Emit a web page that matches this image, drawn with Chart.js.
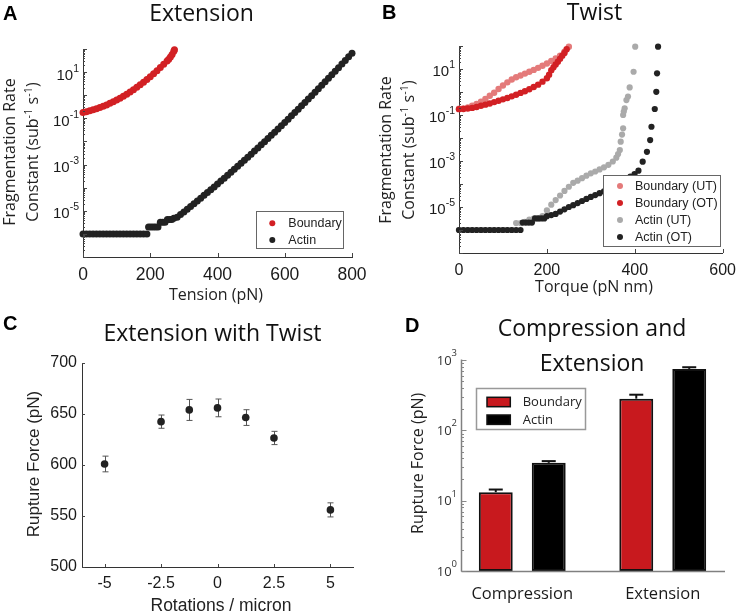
<!DOCTYPE html>
<html><head><meta charset="utf-8">
<script src="https://cdn.jsdelivr.net/npm/chart.js"></script>
<style>
html,body{margin:0;padding:0;background:#fff;}
#wrap{position:relative;width:744px;height:614px;overflow:hidden;background:#fff;}
canvas{position:absolute;left:0;top:0;}
</style></head><body>
<div id="wrap">
<canvas id="cA" width="744" height="614"></canvas>
<canvas id="cB" width="744" height="614"></canvas>
<canvas id="cC" width="744" height="614"></canvas>
<canvas id="cD" width="744" height="614"></canvas>
</div>
<script>
// ---------------- DATA ----------------
// Panel A: Extension
const tensionBoundaryA = [0,10,20,30,40,50,60,70,80,90,100,110,120,130,140,150,160,170,180,190,200,210,220,230,240,250,255,260,265,270,272];
const rateBoundaryA = [0.18,0.194,0.211,0.233,0.259,0.292,0.332,0.382,0.445,0.523,0.621,0.746,0.906,1.11,1.38,1.73,2.19,2.81,3.65,4.78,6.32,8.47,11.5,15.7,21.7,30.3,36,45,58,79,93];
const tensionActinA = [0,10,20,30,40,50,60,70,80,90,100,110,120,130,140,150,160,170,180,190,
  195,202,209,216,223,230,237,244,251,258,264,270,
  280,290,300,310,320,330,340,350,360,370,380,390,400,410,420,430,440,450,460,470,480,490,500,
  510,520,530,540,550,560,570,580,590,600,610,620,630,640,650,660,670,680,690,700,
  710,720,730,740,750,760,770,780,790,800];
const rateActinA = [1e-6,1e-6,1e-6,1e-6,1e-6,1e-6,1e-6,1e-6,1e-6,1e-6,1e-6,1e-6,1e-6,1e-6,1e-6,1e-6,1e-6,1e-6,1e-6,1e-6,
  2e-6,2e-6,2e-6,2e-6,2e-6,3.2e-6,3.2e-6,3.2e-6,4.2e-6,4.2e-6,4.2e-6,4.7e-6,
  5.25e-6,6.84e-6,8.95e-6,1.17e-5,1.54e-5,2.02e-5,2.66e-5,3.51e-5,4.64e-5,6.14e-5,8.15e-5,1.08e-4,1.44e-4,1.93e-4,2.58e-4,3.45e-4,4.63e-4,6.23e-4,8.4e-4,1.13e-3,1.53e-3,2.08e-3,2.82e-3,
  3.83e-3,5.23e-3,7.13e-3,9.76e-3,1.34e-2,1.84e-2,2.53e-2,3.49e-2,4.81e-2,6.66e-2,9.23e-2,0.128,0.178,0.249,0.348,0.487,0.682,0.958,1.35,1.90,
  2.69,3.81,5.40,7.67,10.9,15.6,22.3,31.9,45.8,65.8];

// Panel B: Twist
const torqueBoundaryUT = [0,10,20,30,40,50,60,70,80,90,100,110,120,130,140,150,160,170,180,190,200,210,220,230,240,250];
const rateBoundaryUT = [0.186,0.195,0.214,0.251,0.302,0.380,0.501,0.692,0.933,1.35,1.91,2.63,3.47,4.37,5.25,6.31,7.59,9.12,11.2,13.8,17.4,22.4,28.8,38.0,56.2,93.3];
const torqueBoundaryOT = [0,10,20,30,40,50,60,70,80,90,100,110,120,130,140,150,160,170,180,190,200,205,210,215,220,225,230,235,240,245];
const rateBoundaryOT = [0.18,0.182,0.191,0.204,0.224,0.251,0.282,0.316,0.363,0.417,0.479,0.550,0.646,0.759,0.912,1.07,1.32,1.66,2.09,2.82,3.98,5.62,8.91,12.0,15.8,20.9,28.2,38.0,50.1,72.4];
const torqueActinUT = [0,10,20,30,40,50,60,70,80,90,100,110,120,
  130,140,150,160,170,180,190,200,210,220,230,240,250,260,270,280,290,300,310,320,330,340,350,
  358,362,366,368,371,373.5,373.5,375,377,381,384.6,388.4,397.3,401];
const rateActinUT = [1e-6,1e-6,1e-6,1e-6,1e-6,1e-6,1e-6,1e-6,1e-6,1e-6,1e-6,1e-6,1e-6,
  2e-6,2e-6,2.24e-6,2.82e-6,3.16e-6,3.16e-6,3.98e-6,7.08e-6,1.26e-5,2.0e-5,3.16e-5,5.01e-5,7.59e-5,1.12e-4,1.4e-4,1.8e-4,2.3e-4,2.9e-4,3.5e-4,4.3e-4,5.3e-4,6.8e-4,9.5e-4,
  1.4e-3,2.0e-3,3.0e-3,6.9e-3,1.41e-2,2.63e-2,0.1,0.141,0.195,0.447,0.631,1.58,7.59,93.3];
const torqueActinOT = [0,10,20,30,40,50,60,70,80,90,100,110,120,130,140,
  145,152,159,166,173,180,187,194,
  200,210,220,230,240,250,260,270,280,290,300,310,320,330,340,350,360,370,380,390,
  399.5,408.4,418,427.7,435,438,445.5,449,450.7,453];
const rateActinOT = [1e-6,1e-6,1e-6,1e-6,1e-6,1e-6,1e-6,1e-6,1e-6,1e-6,1e-6,1e-6,1e-6,1e-6,1e-6,
  2.1e-6,2.1e-6,2.1e-6,2.1e-6,3.2e-6,3.2e-6,3.2e-6,3.2e-6,
  4.0e-6,4.47e-6,5.0e-6,6.3e-6,7.9e-6,1.0e-5,1.2e-5,1.48e-5,1.82e-5,2.24e-5,2.75e-5,3.31e-5,3.98e-5,4.79e-5,6.03e-5,7.41e-5,8.91e-5,1.12e-4,1.51e-4,2.09e-4,
  2.69e-4,3.8e-4,9.33e-4,2.51e-3,8.13e-3,3.09e-2,0.182,1.02,6.46,93.3];
const rateTickExps = [1, -1, -3, -5];

// Panel C: Extension with Twist
const rotations = [-5, -2.5, -1.25, 0, 1.25, 2.5, 5];
const ruptureForceC = [601, 642.5, 654, 656, 646.5, 626.5, 556];
const ruptureErrC = [7.7, 6.5, 10.3, 8.7, 7.7, 6.5, 6.9];
const rotationTicks = [-5, -2.5, 0, 2.5, 5];

// Panel D: Compression and Extension
const loadModes = ['Compression', 'Extension'];
const ruptureBoundary = [13.2, 282];
const ruptureActin = [34.5, 747];
const ruptureBoundaryErr = [1.2, 39];
const ruptureActinErr = [2.0, 42];
const forceTickExps = [0, 1, 2, 3];

// ---------------- HELPERS ----------------
const AR = '"Liberation Sans", Arial, Helvetica, sans-serif';
const OS = '"Open Sans", "Liberation Sans", sans-serif';
const fnt = (size, fam, w) => (w ? w + ' ' : '') + size + 'px ' + fam;
const RED = 'rgb(210,32,36)', PINK = 'rgb(228,122,122)', GRAY = 'rgb(170,170,170)', DARK = 'rgb(34,34,34)';

function text(ctx, s, x, y, font, color, align, rot) {
  ctx.save(); ctx.translate(x, y); if (rot) ctx.rotate(rot);
  ctx.font = font; ctx.fillStyle = color; ctx.textAlign = align || 'center'; ctx.textBaseline = 'alphabetic';
  ctx.fillText(s, 0, 0); ctx.restore();
}
function rich(ctx, parts, x, y, align, rot, color) {
  ctx.save(); ctx.translate(x, y); if (rot) ctx.rotate(rot);
  ctx.textBaseline = 'alphabetic'; ctx.textAlign = 'left'; ctx.fillStyle = color;
  let w = 0; for (const p of parts) { ctx.font = p.f; w += ctx.measureText(p.t).width; }
  let cx = align === 'center' ? -w / 2 : (align === 'right' ? -w : 0);
  for (const p of parts) { ctx.font = p.f; ctx.fillText(p.t, cx, p.dy || 0); cx += ctx.measureText(p.t).width; }
  ctx.restore();
}
function seg(ctx, x1, y1, x2, y2, color, lw) {
  ctx.save(); ctx.strokeStyle = color; ctx.lineWidth = lw; ctx.beginPath(); ctx.moveTo(x1, y1); ctx.lineTo(x2, y2); ctx.stroke(); ctx.restore();
}
function logTicks(ctx, scale, x0, major, minor, color, lw) {
  const lo = Math.floor(Math.log10(scale.min)), hi = Math.ceil(Math.log10(scale.max));
  for (let e = lo; e <= hi; e++) for (let m = 1; m <= 9; m++) {
    const v = m * Math.pow(10, e);
    if (v < scale.min * 0.9999 || v > scale.max * 1.0001) continue;
    const py = Math.round(scale.getPixelForValue(v)) + 0.5;
    seg(ctx, x0, py, x0 + (m === 1 ? major : minor), py, color, lw);
  }
}
function logLabels(ctx, scale, exps, xr, fb, fs, color, dyb, dys) {
  for (const e of exps) {
    const py = scale.getPixelForValue(Math.pow(10, e));
    rich(ctx, [{t: '10', f: fb, dy: dyb}, {t: String(e), f: fs, dy: dys}], xr, py, 'right', 0, color);
  }
}
function xTickMarks(ctx, scale, y0, len, color) {
  for (const t of scale.ticks) { const px = Math.round(scale.getPixelForValue(t.value)) + 0.5; seg(ctx, px, y0, px, y0 - len, color, 1); }
}
function yTickMarks(ctx, scale, x0, len, color) {
  for (const t of scale.ticks) { const py = Math.round(scale.getPixelForValue(t.value)) + 0.5; seg(ctx, x0, py, x0 + len, py, color, 1); }
}
function dot(ctx, x, y, r, color) { ctx.save(); ctx.fillStyle = color; ctx.beginPath(); ctx.arc(x, y, r, 0, Math.PI * 2); ctx.fill(); ctx.restore(); }
function box(ctx, x, y, w, h, color, lw) { ctx.save(); ctx.strokeStyle = color; ctx.lineWidth = lw; ctx.strokeRect(x, y, w, h); ctx.restore(); }

const preDraw = {}, postDraw = {};
Chart.register({
  id: 'deco',
  beforeDatasetsDraw(chart) { const f = preDraw[chart.canvas.id]; if (f) f(chart, chart.ctx); },
  afterDraw(chart) { const f = postDraw[chart.canvas.id]; if (f) f(chart, chart.ctx); }
});

const pts = (xs, ys) => xs.map((x, i) => ({x: x, y: ys[i]}));
function scatterSet(label, xs, ys, color, r, order) {
  return {label: label, data: pts(xs, ys), showLine: false, pointRadius: r, pointBackgroundColor: color,
    pointBorderWidth: 0, pointHoverRadius: r, clip: false, order: order || 0};
}
const common = {responsive: false, animation: false, events: [], plugins: {legend: {display: false}, tooltip: {enabled: false}}};
function axisX(min, max, extra) {
  return Object.assign({type: 'linear', min: min, max: max,
    grid: {display: true, drawOnChartArea: false, drawTicks: false},
    border: {display: true, color: '#333', width: 1},
    afterFit: s => { s.height = 40; }}, extra);
}
function axisLogY(min, max) {
  return {type: 'logarithmic', min: min, max: max, ticks: {display: false},
    grid: {display: true, drawOnChartArea: false, drawTicks: false},
    border: {display: true, color: '#333', width: 1},
    afterFit: s => { s.width = 40; }};
}

// ---------------- DECORATION (defined before charts render) ----------------
postDraw.cA = (chart, ctx) => {
  const ca = chart.chartArea, xs = chart.scales.x, ys = chart.scales.y;
  logTicks(ctx, ys, ca.left, 4, 2, '#444', 1);
  xTickMarks(ctx, xs, ca.bottom, 4, '#444');
  logLabels(ctx, ys, rateTickExps, ca.left - 4, fnt(15, AR), fnt(10.5, AR), '#1a1a1a', 7.5, -0.5);
  text(ctx, 'A', 3, 20, fnt(20, AR, 'bold'), '#000', 'left');
  text(ctx, 'Extension', 201.5, 20.7, fnt(23, OS), '#111');
  text(ctx, 'Fragmentation Rate', 14.5, 152, fnt(16, OS), '#222', 'center', -Math.PI / 2);
  rich(ctx, [{t: 'Constant (sub', f: fnt(16, OS)}, {t: '-1', f: fnt(11, OS), dy: -6}, {t: ' s', f: fnt(16, OS)},
    {t: '-1', f: fnt(11, OS), dy: -6}, {t: ')', f: fnt(16, OS)}], 38, 152, 'center', -Math.PI / 2, '#222');
  text(ctx, 'Tension (pN)', 216, 299.5, fnt(16, OS), '#222');
  ctx.save(); ctx.fillStyle = '#fff'; ctx.fillRect(256.5, 211.5, 87, 37); ctx.restore();
  box(ctx, 256.5, 211.5, 87, 37, '#666', 1);
  const rowsA = [223.3, 240];
  chart.data.datasets.forEach((d, i) => {
    dot(ctx, 272.3, rowsA[i], 3, d.pointBackgroundColor);
    ctx.save(); ctx.font = fnt(12.5, AR); ctx.fillStyle = '#222'; ctx.textBaseline = 'middle'; ctx.fillText(d.label, 288.3, rowsA[i] + 0.5); ctx.restore();
  });
};
postDraw.cB = (chart, ctx) => {
  const ca = chart.chartArea, xs = chart.scales.x, ys = chart.scales.y;
  logTicks(ctx, ys, ca.left, 4, 2, '#444', 1);
  xTickMarks(ctx, xs, ca.bottom, 4, '#444');
  logLabels(ctx, ys, rateTickExps, ca.left - 4, fnt(15, AR), fnt(10.5, AR), '#1a1a1a', 7, -1);
  text(ctx, 'B', 382, 18.5, fnt(20, AR, 'bold'), '#000', 'left');
  text(ctx, 'Twist', 594.5, 19.5, fnt(23, OS), '#111');
  text(ctx, 'Fragmentation Rate', 391, 150, fnt(16, OS), '#222', 'center', -Math.PI / 2);
  rich(ctx, [{t: 'Constant (sub', f: fnt(16, OS)}, {t: '-1', f: fnt(11, OS), dy: -6}, {t: ' s', f: fnt(16, OS)},
    {t: '-1', f: fnt(11, OS), dy: -6}, {t: ')', f: fnt(16, OS)}], 414, 150, 'center', -Math.PI / 2, '#222');
  text(ctx, 'Torque (pN nm)', 594, 292, fnt(16, OS), '#222');
  ctx.save(); ctx.fillStyle = '#fff'; ctx.fillRect(603.5, 175.5, 117, 71); ctx.restore();
  box(ctx, 603.5, 175.5, 117, 71, '#666', 1);
  const rowsB = [186, 203, 220, 237];
  chart.data.datasets.forEach((d, i) => {
    dot(ctx, 620, rowsB[i], 3, d.pointBackgroundColor);
    ctx.save(); ctx.font = fnt(12.5, AR); ctx.fillStyle = '#222'; ctx.textBaseline = 'middle'; ctx.fillText(d.label, 635, rowsB[i] + 0.5); ctx.restore();
  });
};
preDraw.cC = (chart, ctx) => {
  const xs = chart.scales.x, ys = chart.scales.y;
  rotations.forEach((r, i) => {
    const px = Math.round(xs.getPixelForValue(r)) + 0.5;
    const y1 = ys.getPixelForValue(ruptureForceC[i] - ruptureErrC[i]);
    const y2 = ys.getPixelForValue(ruptureForceC[i] + ruptureErrC[i]);
    seg(ctx, px, y1, px, y2, '#555', 1);
    seg(ctx, px - 3, y1, px + 3, y1, '#555', 1);
    seg(ctx, px - 3, y2, px + 3, y2, '#555', 1);
  });
};
postDraw.cC = (chart, ctx) => {
  const ca = chart.chartArea, xs = chart.scales.x, ys = chart.scales.y;
  yTickMarks(ctx, ys, ca.left, 3, '#444');
  xTickMarks(ctx, xs, ca.bottom, 3, '#444');
  text(ctx, 'C', 3, 330, fnt(20, AR, 'bold'), '#000', 'left');
  text(ctx, 'Extension with Twist', 212.5, 340.7, fnt(23, OS), '#111');
  text(ctx, 'Rupture Force (pN)', 39, 464, fnt(17, AR), '#222', 'center', -Math.PI / 2);
  text(ctx, 'Rotations / micron', 221, 610.5, fnt(17.5, AR), '#222');
};
postDraw.cD = (chart, ctx) => {
  const ys = chart.scales.y;
  const axX = 461.5, axB = Math.round(ys.getPixelForValue(1)) + 0.5;
  const errs = [ruptureBoundaryErr, ruptureActinErr];
  const vals = [ruptureBoundary, ruptureActin];
  chart.data.datasets.forEach((d, di) => {
    chart.getDatasetMeta(di).data.forEach((bar, i) => {
      const yTop = ys.getPixelForValue(vals[di][i] + errs[di][i]);
      seg(ctx, bar.x, bar.y, bar.x, yTop, '#111', 2);
      seg(ctx, bar.x - 7, yTop, bar.x + 7, yTop, '#111', 2);
    });
  });
  seg(ctx, axX, 359.5, axX, axB, '#808080', 1.5);
  seg(ctx, axX, axB, 725, axB, '#808080', 1.5);
  logTicks(ctx, ys, axX, 5, 2.5, '#888', 1);
  logLabels(ctx, ys, forceTickExps, 457, fnt(13, OS), fnt(9.5, OS), '#333', 4.5, -4);
  text(ctx, 'D', 405, 331.7, fnt(20, AR, 'bold'), '#000', 'left');
  text(ctx, 'Compression and', 592, 336, fnt(23, OS), '#111');
  text(ctx, 'Extension', 592, 370.7, fnt(23, OS), '#111');
  text(ctx, 'Rupture Force (pN)', 423, 463.3, fnt(16, OS), '#222', 'center', -Math.PI / 2);
  ctx.save(); ctx.fillStyle = '#fff'; ctx.fillRect(476.5, 388.5, 109, 41); ctx.restore();
  box(ctx, 476.5, 388.5, 109, 41, '#999', 1.5);
  const rowsD = [402, 419.7];
  chart.data.datasets.forEach((d, i) => {
    ctx.save(); ctx.fillStyle = d.backgroundColor; ctx.fillRect(487, rowsD[i] - 4.7, 23.3, 9.4);
    ctx.strokeStyle = '#111'; ctx.lineWidth = 1.5; ctx.strokeRect(487, rowsD[i] - 4.7, 23.3, 9.4);
    ctx.font = fnt(13, OS); ctx.fillStyle = '#222'; ctx.textBaseline = 'middle'; ctx.fillText(d.label, 522.7, rowsD[i] + 0.5);
    ctx.restore();
  });
};

// ---------------- CHARTS ----------------
new Chart(document.getElementById('cA'), {
  type: 'scatter',
  data: {datasets: [
    scatterSet('Boundary', tensionBoundaryA, rateBoundaryA, RED, 3.5),
    scatterSet('Actin', tensionActinA, rateActinA, DARK, 3.5)
  ]},
  options: Object.assign({}, common, {
    layout: {padding: {left: 43, right: 392, top: 49, bottom: 317}},
    scales: {
      x: axisX(0, 800, {ticks: {stepSize: 200, font: {family: AR, size: 17.5}, color: '#1a1a1a', padding: 8, maxRotation: 0}}),
      y: axisLogY(1e-7, 1e2)
    }
  })
});

new Chart(document.getElementById('cB'), {
  type: 'scatter',
  data: {datasets: [
    scatterSet('Boundary (UT)', torqueBoundaryUT, rateBoundaryUT, PINK, 3.2, 2),
    scatterSet('Boundary (OT)', torqueBoundaryOT, rateBoundaryOT, RED, 3.2, 1),
    scatterSet('Actin (UT)', torqueActinUT, rateActinUT, GRAY, 3.1, 2),
    scatterSet('Actin (OT)', torqueActinOT, rateActinOT, DARK, 3.1, 1)
  ]},
  options: Object.assign({}, common, {
    layout: {padding: {left: 419, right: 15, top: 46, bottom: 321}},
    scales: {
      x: axisX(0, 600, {ticks: {stepSize: 200, font: {family: AR, size: 16}, color: '#1a1a1a', padding: 8, maxRotation: 0}}),
      y: axisLogY(1e-7, 1e2)
    }
  })
});

new Chart(document.getElementById('cC'), {
  type: 'scatter',
  data: {datasets: [scatterSet('Rupture force', rotations, ruptureForceC, DARK, 3.8)]},
  options: Object.assign({}, common, {
    layout: {padding: {left: 42, right: 391, top: 363, bottom: 7}},
    scales: {
      x: axisX(-6, 6, {
        afterBuildTicks: s => { s.ticks = rotationTicks.map(v => ({value: v})); },
        ticks: {font: {family: AR, size: 16}, color: '#1a1a1a', padding: 7, maxRotation: 0, callback: v => String(v)}
      }),
      y: {type: 'linear', min: 500, max: 700,
        ticks: {stepSize: 50, font: {family: AR, size: 16}, color: '#1a1a1a', padding: 5},
        grid: {display: true, drawOnChartArea: false, drawTicks: false},
        border: {display: true, color: '#333', width: 1},
        afterFit: s => { s.width = 40; }}
    }
  })
});

new Chart(document.getElementById('cD'), {
  type: 'bar',
  data: {labels: loadModes, datasets: [
    {label: 'Boundary', data: ruptureBoundary, backgroundColor: 'rgb(200,25,30)', borderColor: '#111', borderWidth: 2,
      borderSkipped: false, categoryPercentage: 0.754, barPercentage: 0.64},
    {label: 'Actin', data: ruptureActin, backgroundColor: '#000', borderColor: '#111', borderWidth: 2,
      borderSkipped: false, categoryPercentage: 0.754, barPercentage: 0.64}
  ]},
  options: Object.assign({}, common, {
    layout: {padding: {left: 412, right: 11, top: 360, bottom: 3}},
    scales: {
      x: {type: 'category', grid: {display: false}, border: {display: false},
        ticks: {font: {family: OS, size: 16.5}, color: '#1a1a1a', padding: 5, maxRotation: 0},
        afterFit: s => { s.height = 40; }},
      y: {type: 'logarithmic', min: 1, max: 1000, ticks: {display: false}, grid: {display: false}, border: {display: false},
        afterFit: s => { s.width = 40; }}
    }
  })
});
</script>
</body></html>
